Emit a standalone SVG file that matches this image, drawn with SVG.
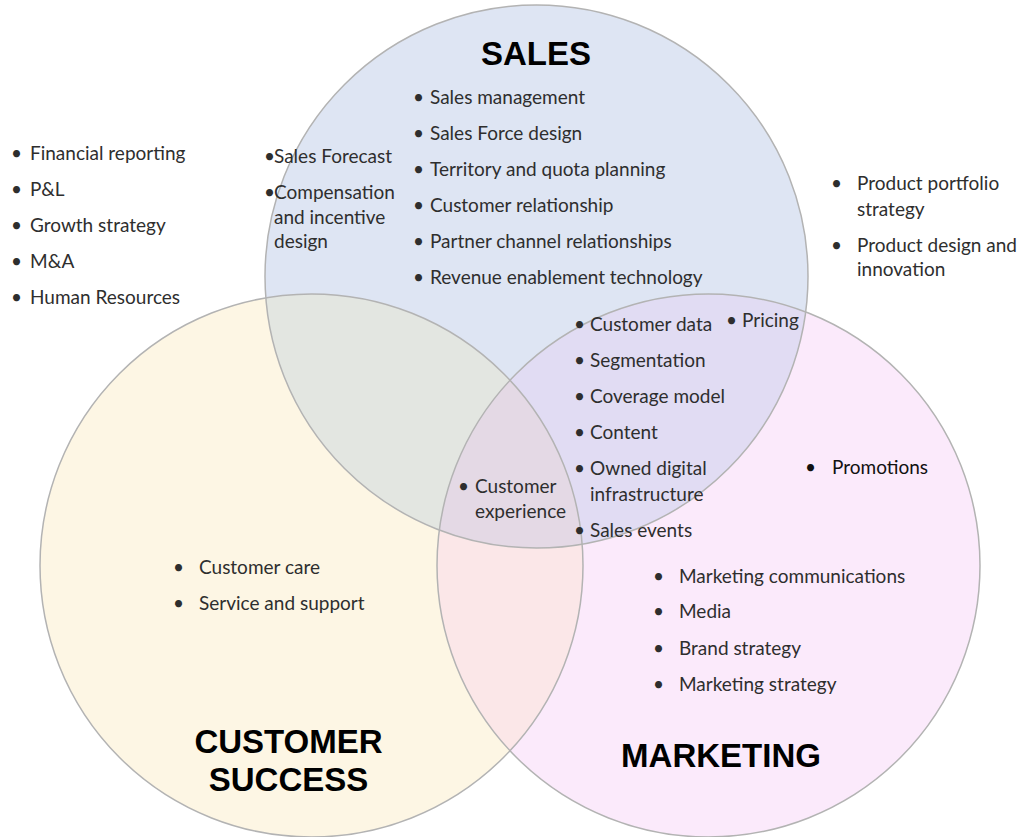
<svg xmlns="http://www.w3.org/2000/svg" width="1019" height="837" viewBox="0 0 1019 837">
<style>
.t{font-family:Lato,"Liberation Sans",sans-serif;font-size:19px;fill:#2e2e2e}
.h{font-family:"Liberation Sans",Arial,sans-serif;font-size:33px;font-weight:bold;fill:#000;text-anchor:middle}
.ring{fill:none;stroke:#b3b3b3;stroke-width:1.5}
</style>
<defs>
<clipPath id="cS"><circle cx="536.5" cy="276.5" r="271.5"/></clipPath>
<clipPath id="cC"><circle cx="311.5" cy="565.5" r="271.5"/></clipPath>
<clipPath id="cM"><circle cx="708.5" cy="565.5" r="271.5"/></clipPath>
</defs>
<rect width="1019" height="837" fill="#fff"/>
<g id="circles">
<circle id="circle-cs" cx="311.5" cy="565.5" r="271.5" fill="#fdf6e4"/>
<circle id="circle-mkt" cx="708.5" cy="565.5" r="271.5" fill="#fbeafb"/>
<circle id="circle-sales" cx="536.5" cy="276.5" r="271.5" fill="#dee5f3"/>
<g clip-path="url(#cC)"><circle cx="708.5" cy="565.5" r="271.5" fill="#fbe7e8"/></g>
<g clip-path="url(#cS)"><circle cx="311.5" cy="565.5" r="271.5" fill="#e3e6e1"/></g>
<g clip-path="url(#cS)"><circle cx="708.5" cy="565.5" r="271.5" fill="#e1dcf3"/></g>
<g clip-path="url(#cS)"><g clip-path="url(#cC)"><circle cx="708.5" cy="565.5" r="271.5" fill="#e4d9e5"/></g></g>
<circle class="ring" cx="311.5" cy="565.5" r="271.5"/>
<circle class="ring" cx="708.5" cy="565.5" r="271.5"/>
<circle class="ring" cx="536.5" cy="276.5" r="271.5"/>
</g>
<g id="titles">
<text class="h" x="536" y="65">SALES</text>
<text class="h" x="288.5" y="753">CUSTOMER</text>
<text class="h" x="288.5" y="791">SUCCESS</text>
<text class="h" x="721" y="767">MARKETING</text>
</g>
<g id="list-corporate" class="t">
<text x="11" y="160">•<tspan x="30">Financial reporting</tspan></text>
<text x="11" y="196">•<tspan x="30">P&amp;L</tspan></text>
<text x="11" y="232">•<tspan x="30">Growth strategy</tspan></text>
<text x="11" y="268">•<tspan x="30">M&amp;A</tspan></text>
<text x="11" y="304">•<tspan x="30">Human Resources</tspan></text>
</g>
<g id="list-sales-forecast" class="t">
<text x="264" y="163">•</text>
<text x="274" y="163">Sales Forecast</text>
<text x="264" y="199">•</text>
<text x="274" y="199">Compensation</text>
<text x="274" y="224">and incentive</text>
<text x="274" y="248">design</text>
</g>
<g id="list-sales" class="t">
<text x="413" y="104">•<tspan x="430">Sales management</tspan></text>
<text x="413" y="140">•<tspan x="430">Sales Force design</tspan></text>
<text x="413" y="176">•<tspan x="430">Territory and quota planning</tspan></text>
<text x="413" y="212">•<tspan x="430">Customer relationship</tspan></text>
<text x="413" y="248">•<tspan x="430">Partner channel relationships</tspan></text>
<text x="413" y="284">•<tspan x="430">Revenue enablement technology</tspan></text>
</g>
<g id="list-product" class="t">
<text x="831" y="190">•<tspan x="857">Product portfolio</tspan></text>
<text x="857" y="216">strategy</text>
<text x="831" y="252">•<tspan x="857">Product design and</tspan></text>
<text x="857" y="276">innovation</text>
</g>
<g id="list-sales-marketing" class="t">
<text x="574" y="331">•<tspan x="590">Customer data</tspan></text>
<text x="574" y="367">•<tspan x="590">Segmentation</tspan></text>
<text x="574" y="403">•<tspan x="590">Coverage model</tspan></text>
<text x="574" y="439">•<tspan x="590">Content</tspan></text>
<text x="574" y="475">•<tspan x="590">Owned digital</tspan></text>
<text x="590" y="501">infrastructure</text>
<text x="574" y="537">•<tspan x="590">Sales events</tspan></text>
</g>
<g id="pricing" class="t">
<text x="726" y="327">•<tspan x="742">Pricing</tspan></text>
</g>
<g id="customer-experience" class="t">
<text x="458" y="493">•<tspan x="475">Customer</tspan></text>
<text x="475" y="518">experience</text>
</g>
<g id="list-customer-success" class="t">
<text x="173" y="574">•<tspan x="199">Customer care</tspan></text>
<text x="173" y="610">•<tspan x="199">Service and support</tspan></text>
</g>
<g id="promotions" class="t">
<text x="805" y="474" style="fill:#111">•<tspan x="832">Promotions</tspan></text>
</g>
<g id="list-marketing" class="t">
<text x="653" y="583">•<tspan x="679">Marketing communications</tspan></text>
<text x="653" y="618">•<tspan x="679">Media</tspan></text>
<text x="653" y="655">•<tspan x="679">Brand strategy</tspan></text>
<text x="653" y="691">•<tspan x="679">Marketing strategy</tspan></text>
</g>
</svg>
